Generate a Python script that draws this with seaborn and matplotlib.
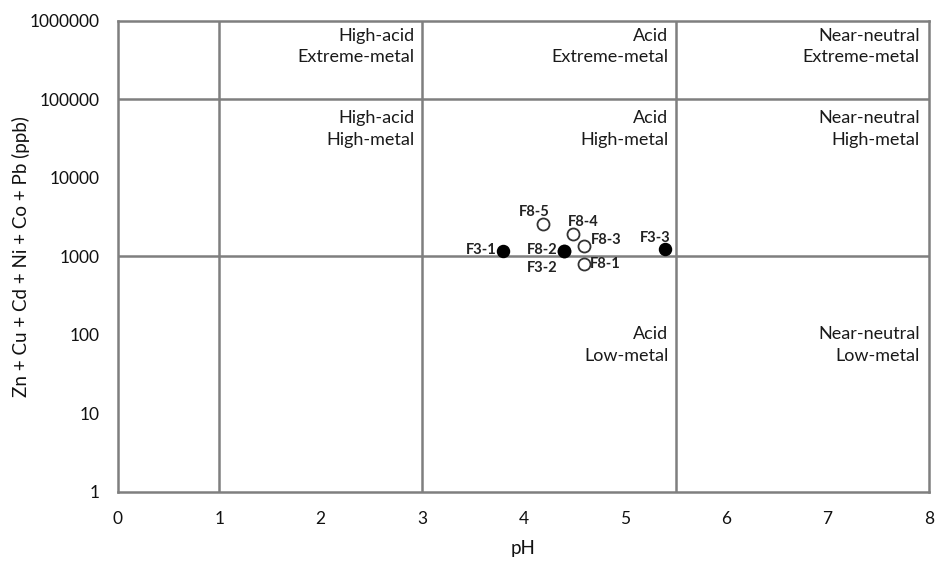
import matplotlib
matplotlib.use("Agg")
import matplotlib.pyplot as plt
import matplotlib.ticker as mticker
import seaborn as sns
import pandas as pd

# ---- data ----
sample_names = ["F3-1", "F3-2", "F3-3", "F8-1", "F8-2", "F8-3", "F8-4", "F8-5"]
ph_values = [3.80, 4.40, 5.40, 4.60, 4.40, 4.60, 4.49, 4.19]
metal_ppb = [1170, 1170, 1255, 807, 1170, 1359, 1914, 2624]
sample_group = ["F3", "F3", "F3", "F8", "F8", "F8", "F8", "F8"]

x_ticks = [0, 1, 2, 3, 4, 5, 6, 7, 8]
y_ticks = [1, 10, 100, 1000, 10000, 100000, 1000000]
ph_boundaries = [1, 3, 5.5]
metal_boundaries = [1000, 100000]

region_labels = [
    "High-acid\nExtreme-metal", "Acid\nExtreme-metal", "Near-neutral\nExtreme-metal",
    "High-acid\nHigh-metal", "Acid\nHigh-metal", "Near-neutral\nHigh-metal",
    "Acid\nLow-metal", "Near-neutral\nLow-metal",
]
region_x = [2.93, 5.43, 7.91, 2.93, 5.43, 7.91, 5.43, 7.91]
region_y = [10**5.675, 10**5.675, 10**5.675, 10**4.62, 10**4.62, 10**4.62, 10**1.87, 10**1.87]

# label offsets (points) and alignment, per sample
label_offsets = {
    "F3-1": (-5, 1, "right", "center"),
    "F3-2": (-5, -12, "right", "center"),
    "F3-3": (4, 8, "right", "center"),
    "F8-1": (4, 0, "left", "center"),
    "F8-2": (-5, 1, "right", "center"),
    "F8-3": (5, 4, "left", "center"),
    "F8-4": (-4, 9, "left", "center"),
    "F8-5": (-6, 8, "center", "center"),
}

df = pd.DataFrame({"name": sample_names, "ph": ph_values, "metal": metal_ppb, "group": sample_group})

sns.set_theme(style="white")
plt.rcParams["font.family"] = ["Lato", "DejaVu Sans"]

fig = plt.figure(figsize=(9.35, 5.64), dpi=100)
ax = fig.add_axes([0.126, 0.1277, 0.8676, 0.8351])

gray = "#7f7f7f"
ax.set_xlim(0, 8)
ax.set_yscale("log")
ax.set_ylim(1, 1000000)

for xb in ph_boundaries:
    ax.axvline(xb, color=gray, lw=1.8, zorder=1)
for yb in metal_boundaries:
    ax.axhline(yb, color=gray, lw=1.8, zorder=1)

f8 = df[df.group == "F8"]
f3 = df[df.group == "F3"]
sns.scatterplot(data=f8, x="ph", y="metal", ax=ax, s=75, color="white",
                edgecolor="#333333", linewidth=1.3, zorder=3, legend=False)
sns.scatterplot(data=f3, x="ph", y="metal", ax=ax, s=75, color="black",
                edgecolor="black", linewidth=1.0, zorder=4, legend=False)

for _, r in df.iterrows():
    dx, dy, ha, va = label_offsets[r["name"]]
    ax.annotate(r["name"], (r["ph"], r["metal"]), xytext=(dx, dy), textcoords="offset points",
                ha=ha, va=va, fontsize=10.5, fontweight="bold", color="#222222", zorder=5)

for txt, rx, ry in zip(region_labels, region_x, region_y):
    ax.text(rx, ry, txt, ha="right", va="center", fontsize=13, color="#1a1a1a",
            linespacing=1.45, multialignment="right")

ax.set_xticks(x_ticks)
ax.set_yticks(y_ticks)
ax.yaxis.set_major_formatter(mticker.FuncFormatter(lambda v, p: f"{int(round(v))}"))
ax.yaxis.set_minor_locator(mticker.NullLocator())
ax.tick_params(axis="both", which="major", length=5, width=1.2, color=gray,
               labelsize=12.5, labelcolor="#111111", direction="out")
ax.tick_params(axis="x", pad=9)
ax.tick_params(axis="y", pad=8)

for sp in ax.spines.values():
    sp.set_color(gray)
    sp.set_linewidth(1.8)

ax.set_xlabel("pH", fontsize=13.5, color="#111111", labelpad=9)
ax.set_ylabel("Zn + Cu + Cd + Ni + Co + Pb (ppb)", fontsize=13.5, color="#111111", labelpad=0)

fig.savefig("out.png", dpi=100)
